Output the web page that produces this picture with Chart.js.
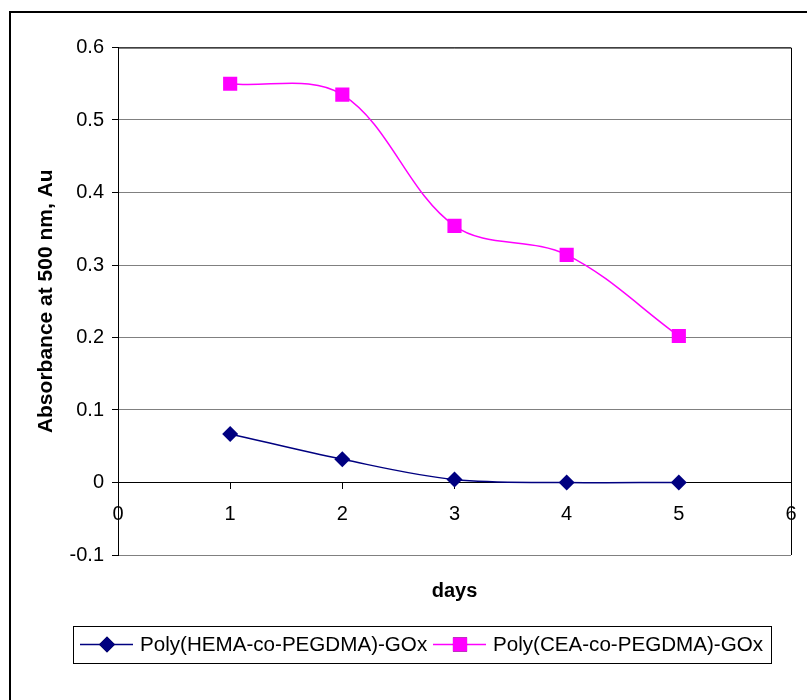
<!DOCTYPE html>
<html>
<head>
<meta charset="utf-8">
<script src="https://cdn.jsdelivr.net/npm/chart.js@4.4.1/dist/chart.umd.min.js"></script>
<style>
  html, body { margin: 0; padding: 0; background: #fff; }
  canvas { display: block; }
</style>
</head>
<body>
<canvas id="absChart" width="807" height="700"></canvas>
<script>
// values
const days = [1, 2, 3, 4, 5];
const hemaValues = [0.067, 0.032, 0.004, 0, 0];
const ceaValues = [0.550, 0.535, 0.354, 0.314, 0.202];
const xTicks = [0, 1, 2, 3, 4, 5, 6];
const yTicks = [-0.1, 0, 0.1, 0.2, 0.3, 0.4, 0.5, 0.6];
const seriesNames = ['Poly(HEMA-co-PEGDMA)-GOx', 'Poly(CEA-co-PEGDMA)-GOx'];

const FONT = 'Liberation Sans, Arial, sans-serif';

// outer frame + plot area border
const framePlugin = {
    id: 'frame',
    beforeDraw(chart) {
        const ctx = chart.ctx;
        ctx.save();
        ctx.fillStyle = '#fff';
        ctx.fillRect(0, 0, chart.width, chart.height);
        ctx.strokeStyle = '#000';
        ctx.lineWidth = 2;
        ctx.beginPath();
        ctx.moveTo(10, chart.height);
        ctx.lineTo(10, 12);
        ctx.lineTo(chart.width, 12);
        ctx.stroke();
        ctx.restore();
    },
    afterDraw(chart) {
        const ctx = chart.ctx;
        const a = chart.chartArea;
        ctx.save();
        ctx.strokeStyle = '#000';
        ctx.lineWidth = 1;
        ctx.beginPath();
        ctx.moveTo(a.left, a.top + 0.5);
        ctx.lineTo(a.right + 0.5, a.top + 0.5);
        ctx.lineTo(a.right + 0.5, a.bottom);
        ctx.stroke();
        ctx.restore();
    }
};

// Excel style legend: line with marker in a box
const legendPlugin = {
    id: 'boxLegend',
    afterDraw(chart) {
        const ctx = chart.ctx;
        const box = { x: 73, y: 626, w: 698, h: 37 };
        const starts = [80, 433];
        const cy = box.y + box.h / 2;
        ctx.save();
        ctx.strokeStyle = '#000';
        ctx.lineWidth = 1;
        ctx.strokeRect(box.x + 0.5, box.y + 0.5, box.w, box.h);
        chart.data.datasets.forEach((ds, i) => {
            const x0 = starts[i];
            ctx.strokeStyle = ds.borderColor;
            ctx.lineWidth = ds.borderWidth;
            ctx.beginPath();
            ctx.moveTo(x0, cy);
            ctx.lineTo(x0 + 53, cy);
            ctx.stroke();
            Chart.helpers.drawPoint(ctx, {
                pointStyle: ds.pointStyle,
                radius: ds.pointRadius,
                rotation: 0,
                borderWidth: 0
            }, x0 + 27, cy);
            ctx.fillStyle = ds.pointBackgroundColor;
            ctx.fill();
            ctx.fillStyle = '#000';
            ctx.font = '20.6px ' + FONT;
            ctx.textBaseline = 'middle';
            ctx.textAlign = 'left';
            ctx.fillText(ds.label, x0 + 60, cy + 1);
        });
        ctx.restore();
    }
};

const canvas = document.getElementById('absChart');
const ctx = canvas.getContext('2d');

new Chart(ctx, {
    type: 'line',
    data: {
        datasets: [{
            label: seriesNames[0],
            data: days.map((d, i) => ({ x: d, y: hemaValues[i] })),
            borderColor: '#000080',
            borderWidth: 1.5,
            pointStyle: 'rectRot',
            pointRadius: 8,
            pointBackgroundColor: '#000080',
            pointBorderColor: '#000080',
            pointBorderWidth: 0,
            tension: 0.35,
            fill: false
        }, {
            label: seriesNames[1],
            data: days.map((d, i) => ({ x: d, y: ceaValues[i] })),
            borderColor: '#ff00ff',
            borderWidth: 1.5,
            pointStyle: 'rect',
            pointRadius: 10,
            pointBackgroundColor: '#ff00ff',
            pointBorderColor: '#ff00ff',
            pointBorderWidth: 0,
            tension: 0.35,
            fill: false
        }]
    },
    options: {
        responsive: false,
        animation: false,
        devicePixelRatio: 1,
        layout: { padding: { top: 47.5, right: 16, left: 0, bottom: 0 } },
        plugins: {
            legend: { display: false },
            tooltip: { enabled: false }
        },
        scales: {
            x: {
                type: 'linear',
                position: { y: 0 },
                min: 0,
                max: 6,
                afterBuildTicks(scale) {
                    scale.ticks = xTicks.map(v => ({ value: v }));
                },
                afterFit(scale) {
                    scale.paddingLeft = 0;
                    scale.paddingRight = 0;
                },
                ticks: {
                    color: '#000',
                    padding: 14,
                    font: { family: FONT, size: 20 }
                },
                grid: {
                    drawOnChartArea: false,
                    tickLength: 6,
                    color: '#000'
                },
                border: { color: '#000', width: 1 }
            },
            xTitle: {
                type: 'linear',
                position: 'bottom',
                min: 0,
                max: 6,
                afterFit(scale) {
                    scale.height = 145;
                    scale.paddingLeft = 0;
                    scale.paddingRight = 0;
                },
                ticks: { display: false },
                grid: { display: false },
                border: { display: false },
                title: {
                    display: true,
                    text: 'days',
                    color: '#000',
                    font: { family: FONT, size: 20, weight: 'bold' },
                    padding: { top: 0, bottom: 97 }
                }
            },
            y: {
                min: -0.1,
                max: 0.6,
                afterFit(scale) { scale.width = 118; },
                afterBuildTicks(scale) {
                    scale.ticks = yTicks.map(v => ({ value: v }));
                },
                ticks: {
                    color: '#000',
                    padding: 8,
                    font: { family: FONT, size: 20 },
                    callback: v => String(Number(v.toFixed(1)))
                },
                grid: {
                    color: '#808080',
                    tickColor: '#000',
                    tickLength: 6
                },
                border: { color: '#000', width: 1 },
                title: {
                    display: true,
                    text: 'Absorbance at 500 nm, Au',
                    color: '#000',
                    font: { family: FONT, size: 21, weight: 'bold' },
                    padding: { top: 34, bottom: 0 }
                }
            }
        }
    },
    plugins: [framePlugin, legendPlugin]
});
</script>
</body>
</html>
